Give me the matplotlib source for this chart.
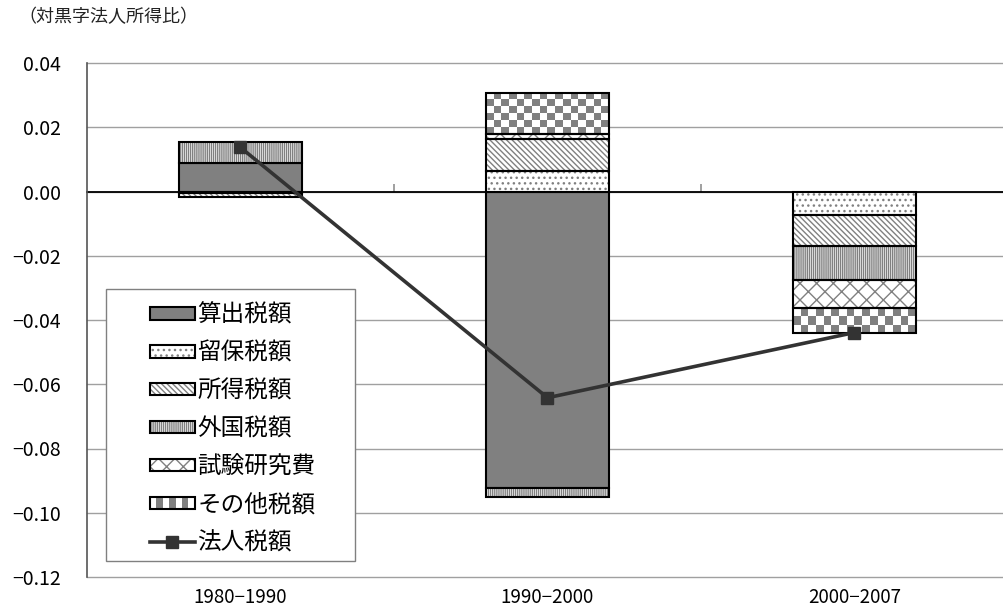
import numpy as np
import matplotlib
matplotlib.use("Agg")
import matplotlib.pyplot as plt
from matplotlib.patches import Patch, Rectangle
from matplotlib.lines import Line2D
from matplotlib.colors import ListedColormap
from matplotlib.legend_handler import HandlerBase, HandlerTuple
from matplotlib.ticker import FixedLocator, FuncFormatter

plt.rcParams['font.family'] = ['Noto Sans CJK JP', 'DejaVu Sans']
plt.rcParams['hatch.linewidth'] = 1.0

# ---- data -------------------------------------------------------------
periods = ['1980−1990', '1990−2000', '2000−2007']
series_names = ['算出税額', '留保税額', '所得税額', '外国税額', '試験研究費', 'その他税額']
calc_tax     = [0.0090, -0.0922, 0.0000]
retained_tax = [-0.0006, 0.0065, -0.0072]
income_tax   = [-0.0010, 0.0097, -0.0099]
foreign_tax  = [0.0063, -0.0028, -0.0103]
rnd_credit   = [0.0000, 0.0016, -0.0090]
other_tax    = [0.0000, 0.0130, -0.0075]
corp_tax     = [0.0137, -0.0642, -0.0439]
line_name = '法人税額'
y_ticks = [-0.12, -0.10, -0.08, -0.06, -0.04, -0.02, 0.00, 0.02, 0.04]
unit_note = '（対黒字法人所得比）'

series_values = [calc_tax, retained_tax, income_tax, foreign_tax, rnd_credit, other_tax]

# ---- styling ----------------------------------------------------------
GRAY = '#808080'
EDGE = 'black'
BAR_W = 0.40
# fill style per series: ('solid', None) / ('hatch', pattern) / ('checker', None)
styles = [('solid', None), ('hatch', '...'), ('hatch', '\\\\\\\\\\\\'),
          ('hatch', '||||||||'), ('hatch', 'xx'), ('checker', None)]

W, H, DPI = 1004, 616, 100
fig = plt.figure(figsize=(W / DPI, H / DPI), dpi=DPI)
fig.patch.set_facecolor('white')
ax = fig.add_axes([87 / W, 1 - 577 / H, 921 / W, 514 / H])
ax.set_xlim(-0.5, 2.5)
ax.set_ylim(y_ticks[0], y_ticks[-1])

x = np.arange(len(periods))


def checker_fill(ax, xc, bottom, height, width, cell_px=7.5):
    x0, x1 = xc - width / 2, xc + width / 2
    y0, y1 = sorted([bottom, bottom + height])
    (px0, py0), (px1, py1) = ax.transData.transform([(x0, y0), (x1, y1)])
    nx = max(1, int(round(abs(px1 - px0) / cell_px)))
    ny = max(1, int(round(abs(py1 - py0) / cell_px)))
    grid = np.add.outer(np.arange(ny), np.arange(nx)) % 2
    ax.imshow(grid, extent=(x0, x1, y0, y1), origin='upper',
              cmap=ListedColormap(['white', GRAY]), aspect='auto',
              interpolation='nearest', zorder=2)


pos_base = np.zeros(len(periods))
neg_base = np.zeros(len(periods))
for vals, (kind, hatch) in zip(series_values, styles):
    vals = np.asarray(vals, dtype=float)
    bottoms = np.where(vals >= 0, pos_base, neg_base)
    mask = vals != 0
    xs, vs, bs = x[mask], vals[mask], bottoms[mask]
    if kind == 'solid':
        ax.bar(xs, vs, BAR_W, bottom=bs, color=GRAY, edgecolor=EDGE,
               linewidth=1.5, zorder=2)
    elif kind == 'hatch':
        ax.bar(xs, vs, BAR_W, bottom=bs, color='white', edgecolor=GRAY,
               hatch=hatch, linewidth=0, zorder=2)
        ax.bar(xs, vs, BAR_W, bottom=bs, fill=False, edgecolor=EDGE,
               linewidth=1.5, zorder=3)
    else:
        for xi, vi, bi in zip(xs, vs, bs):
            checker_fill(ax, xi, bi, vi, BAR_W)
        ax.bar(xs, vs, BAR_W, bottom=bs, fill=False, edgecolor=EDGE,
               linewidth=1.5, zorder=3)
    pos_base = pos_base + np.where(vals > 0, vals, 0)
    neg_base = neg_base + np.where(vals < 0, vals, 0)

ax.plot(x, corp_tax, color='#333333', linewidth=2.6, marker='s',
        markersize=9, zorder=6)

ax.set_xlim(-0.5, 2.5)
ax.set_ylim(y_ticks[0], y_ticks[-1])

# ---- axes -------------------------------------------------------------
ax.set_yticks(y_ticks)
ax.yaxis.set_major_formatter(FuncFormatter(lambda v, p: f'{v:.2f}'.replace('-', '−')))
ax.tick_params(axis='y', length=0, pad=19, labelsize=14, labelcolor='black')
ax.grid(axis='y', color='#a0a0a0', linewidth=1.0, zorder=0)
for gl in ax.get_ygridlines():
    gl.set_clip_on(False)
ax.set_axisbelow(True)

ax.spines['top'].set_visible(False)
ax.spines['right'].set_visible(False)
ax.spines['left'].set_color('#555555')
ax.spines['left'].set_linewidth(1.2)
ax.spines['bottom'].set_position(('data', 0))
ax.spines['bottom'].set_color('black')
ax.spines['bottom'].set_linewidth(1.3)
ax.spines['bottom'].set_zorder(1)

ax.set_xticks(x)
ax.xaxis.set_minor_locator(FixedLocator([0.5, 1.5]))
ax.tick_params(axis='x', which='major', length=0, labelbottom=False)
ax.tick_params(axis='x', which='minor', direction='in', length=6,
               width=1.2, color='#909090')

sec = ax.secondary_xaxis(0)
sec.set_xticks(x, labels=periods)
sec.tick_params(length=0, pad=7, labelsize=13.5)
sec.spines['bottom'].set_visible(False)

# ---- legend -----------------------------------------------------------
class CheckerKey:
    pass


class CheckerHandler(HandlerBase):
    def create_artists(self, legend, orig_handle, xdescent, ydescent,
                       width, height, fontsize, trans):
        x0, y0 = -xdescent, -ydescent
        n = 7
        cw = width / n
        arts = [Rectangle((x0, y0), width, height, facecolor='white',
                          edgecolor='none', transform=trans)]
        for i in range(1, n, 2):
            arts.append(Rectangle((x0 + i * cw, y0 + height * 0.12), cw,
                                  height * 0.76, facecolor=GRAY,
                                  edgecolor='none', transform=trans))
        arts.append(Rectangle((x0, y0), width, height, fill=False,
                              edgecolor=EDGE, linewidth=1.5, transform=trans))
        return arts


handles = []
for kind, hatch in styles:
    if kind == 'solid':
        handles.append(Patch(facecolor=GRAY, edgecolor=EDGE, linewidth=1.5))
    elif kind == 'hatch':
        handles.append((Patch(facecolor='white', edgecolor=GRAY, hatch=hatch, linewidth=0),
                        Patch(fill=False, edgecolor=EDGE, linewidth=1.5)))
    else:
        handles.append(CheckerKey())
handles.append(Line2D([], [], color='#333333', linewidth=2.6, marker='s', markersize=9))
labels = series_names + [line_name]

leg = fig.legend(handles, labels, loc='upper left',
                 bbox_to_anchor=(150 / W, 1 - 304 / H), bbox_transform=fig.transFigure,
                 frameon=False, fontsize=17, borderpad=0, borderaxespad=0,
                 handlelength=1.9, handleheight=0.42, handletextpad=0.1,
                 labelspacing=0.63,
                 handler_map={CheckerKey: CheckerHandler(),
                              tuple: HandlerTuple(ndivide=1, pad=0)})
leg.set_zorder(10)
fig.patches.append(Rectangle((106 / W, 1 - 561 / H), (355 - 106) / W, (561 - 289) / H,
                             transform=fig.transFigure, facecolor='white',
                             edgecolor='#808080', linewidth=1.0, zorder=9))

fig.text(18 / W, 1 - 17 / H, unit_note, fontsize=13, ha='left', va='center',
         color='#222222')

fig.savefig('out.png', dpi=DPI, facecolor='white')
